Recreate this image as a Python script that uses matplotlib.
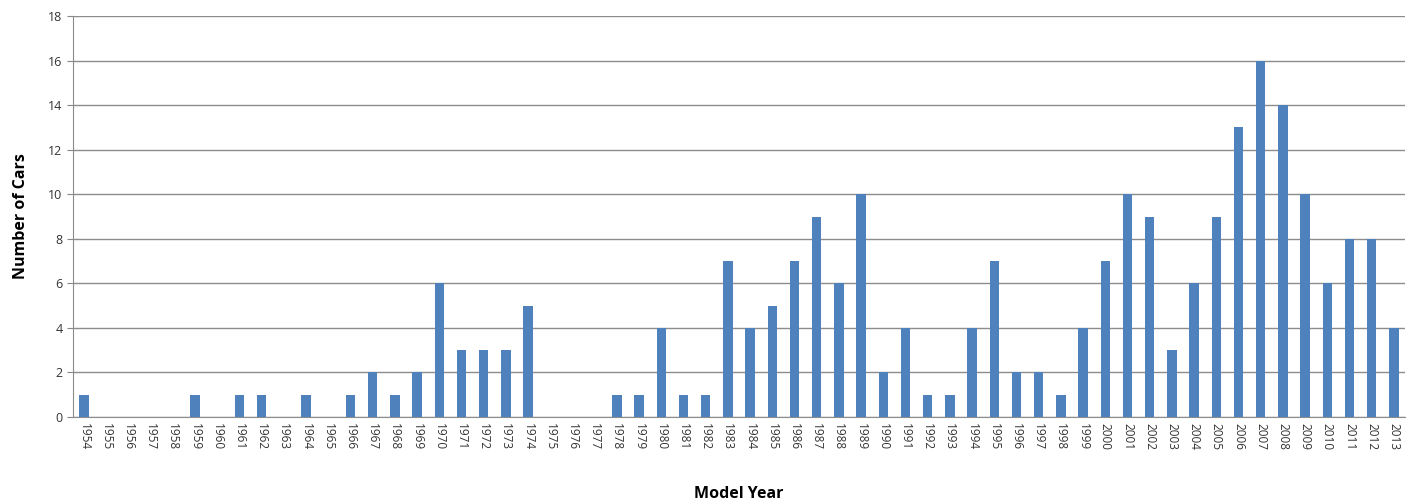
import matplotlib
matplotlib.use("Agg")
import matplotlib.pyplot as plt

years = list(range(1954, 2014))
cars = [1, 0, 0, 0, 0, 1, 0, 1, 1, 0,
        1, 0, 1, 2, 1, 2, 6, 3, 3, 3,
        5, 0, 0, 0, 1, 1, 4, 1, 1, 7,
        4, 5, 7, 9, 6, 10, 2, 4, 1, 1,
        4, 7, 2, 2, 1, 4, 7, 10, 9, 3,
        6, 9, 13, 16, 14, 10, 6, 8, 8, 4]
yticks = list(range(0, 19, 2))

plt.rcParams['font.family'] = ['Open Sans', 'DejaVu Sans']

fig = plt.figure(figsize=(14.14, 5.03), dpi=100)
ax = fig.add_axes([0.0516, 0.171, 0.942, 0.797])

x = list(range(len(years)))
ax.bar(x, cars, width=0.42, color='#4F81BD', zorder=3)

ax.set_xlim(-0.5, len(years) - 0.5)
ax.set_ylim(0, 18)
ax.set_yticks(yticks)
ax.set_xticks(x)
ax.set_xticklabels([str(y) for y in years], rotation=270, fontsize=8.5, color='#333333')
ax.tick_params(axis='y', labelsize=9, colors='#333333', length=4, color='#888888')
ax.tick_params(axis='x', length=0, pad=4)

ax.yaxis.grid(True, color='#8c8c8c', linewidth=1, zorder=0)
for s in ['top', 'right']:
    ax.spines[s].set_visible(False)
for s in ['left', 'bottom']:
    ax.spines[s].set_color('#8c8c8c')

ax.set_ylabel('Number of Cars', fontsize=11.5, fontweight='bold', labelpad=14)
ax.set_xlabel('Model Year', fontsize=11.5, fontweight='bold', labelpad=26)

fig.savefig('out.png', dpi=100)
